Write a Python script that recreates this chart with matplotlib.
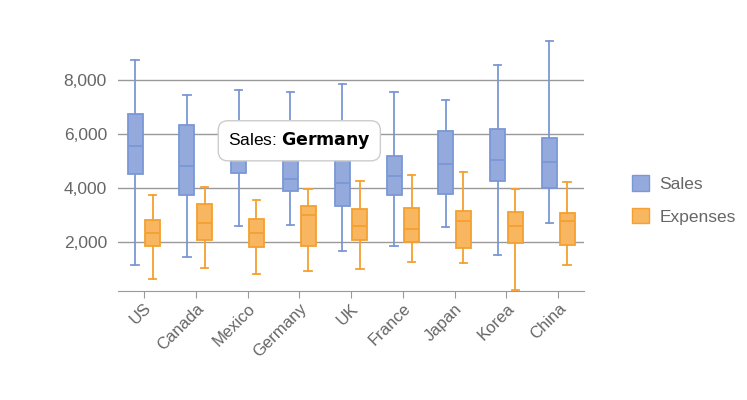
import matplotlib
matplotlib.use("Agg")
import matplotlib.pyplot as plt
from matplotlib.patches import Patch

plt.rcParams['font.family'] = ['Liberation Sans', 'DejaVu Sans']

countries = ["US", "Canada", "Mexico", "Germany", "UK", "France", "Japan", "Korea", "China"]
# [low, q1, median, q3, high]
sales = [
    [1173, 4531, 5568, 6741, 8741],
    [1457, 3765, 4840, 6346, 7469],
    [2593, 4568, 5300, 5900, 7642],
    [2642, 3901, 4333, 5600, 7568],
    [1691, 3358, 4198, 5200, 7877],
    [1864, 3741, 4469, 5198, 7556],
    [2556, 3802, 4914, 6111, 7272],
    [1519, 4284, 5037, 6198, 8568],
    [2704, 4012, 4963, 5877, 9457],
]
expenses = [
    [642, 1864, 2346, 2840, 3765],
    [1049, 2099, 2716, 3420, 4037],
    [815, 1827, 2333, 2877, 3568],
    [951, 1877, 3000, 3346, 3975],
    [1025, 2099, 2617, 3235, 4259],
    [1272, 2000, 2481, 3284, 4481],
    [1235, 1802, 2778, 3173, 4593],
    [222, 1975, 2593, 3136, 3975],
    [1160, 1914, 2802, 3086, 4222],
]
yticks = [2000, 4000, 6000, 8000]

def stats(rows):
    return [dict(whislo=r[0], q1=r[1], med=r[2], q3=r[3], whishi=r[4], fliers=[]) for r in rows]

fig = plt.figure(figsize=(7.47, 4.0), dpi=100)
ax = fig.add_axes([0.158, 0.2725, 0.624, 0.6275])

for data, off, fc, ec in [(sales, -0.17, "#94aadd", "#7b97d6"), (expenses, 0.17, "#f8b660", "#f5a030")]:
    pos = [i + off for i in range(len(countries))]
    ax.bxp(stats(data), positions=pos, widths=0.29, patch_artist=True, showfliers=False,
           boxprops=dict(facecolor=fc, edgecolor=ec, linewidth=1.3),
           medianprops=dict(color=ec, linewidth=1.3),
           whiskerprops=dict(color=ec, linewidth=1.3),
           capprops=dict(color=ec, linewidth=1.3), capwidths=0.14, zorder=3)

ax.set_xlim(-0.5, len(countries) - 0.5)
ax.set_ylim(200, 9500)
ax.set_xticks(range(len(countries)))
ax.set_xticklabels(countries, rotation=45, ha="right", rotation_mode="anchor", fontsize=12, color="#666666")
ax.set_yticks(yticks)
ax.set_yticklabels([f"{v:,}" for v in yticks], fontsize=12.5, color="#666666")
ax.grid(axis="y", color="#999999", linewidth=1, zorder=0)
for s in ["top", "right", "left"]:
    ax.spines[s].set_visible(False)
ax.spines["bottom"].set_color("#999999")
ax.tick_params(axis="y", length=0, pad=8)
ax.tick_params(axis="x", color="#999999", length=5, pad=2)

handles = [Patch(facecolor="#94aadd", edgecolor="#7b97d6", label="Sales"),
           Patch(facecolor="#f8b660", edgecolor="#f5a030", label="Expenses")]
fig.legend(handles=handles, loc="center left", bbox_to_anchor=(0.825, 0.5), frameon=False,
           fontsize=12.5, labelcolor="#666666", handlelength=1.0, handleheight=1.0,
           handletextpad=0.6, labelspacing=0.9)

fig.text(0.305, 0.648, "Sales: $\\bf{Germany}$", fontsize=12.5, va="center", ha="left",
         bbox=dict(boxstyle="round,pad=0.55", facecolor="white", edgecolor="#cccccc"), zorder=10)

fig.savefig("out.png", dpi=100)
